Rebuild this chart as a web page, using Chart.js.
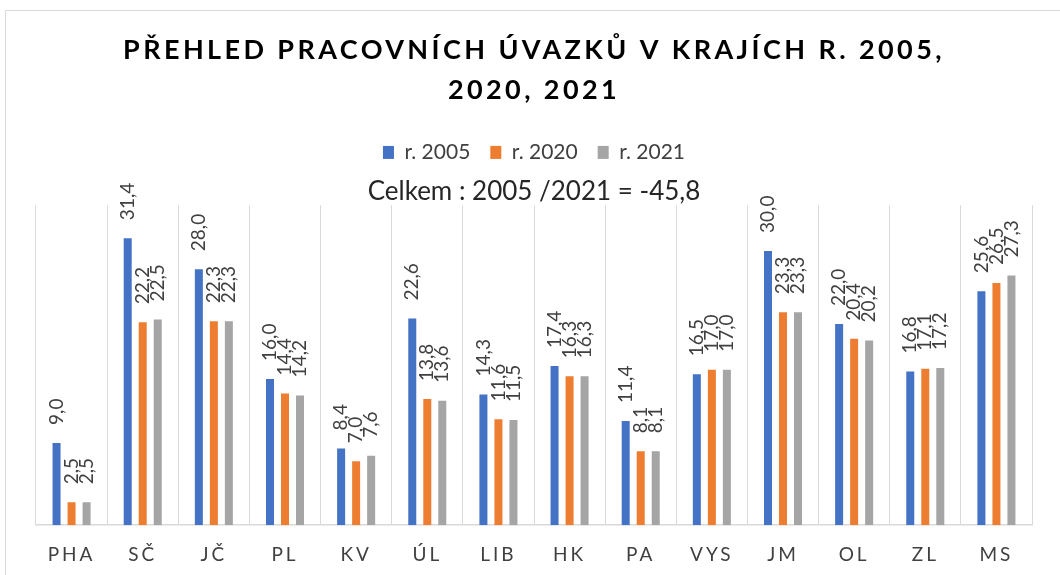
<!DOCTYPE html>
<html lang="cs">
<head>
<meta charset="utf-8">
<title>Přehled pracovních úvazků v krajích</title>
<script src="https://cdn.jsdelivr.net/npm/chart.js@4.4.1/dist/chart.umd.min.js"></script>
<style>
  html, body { margin: 0; padding: 0; background: #fff; }
  #wrap { width: 1060px; height: 575px; }
</style>
</head>
<body>
<div id="wrap"><canvas id="uvazkyChart" width="1060" height="575"></canvas></div>
<script>
// data z grafu
const kraje = ['PHA', 'SČ', 'JČ', 'PL', 'KV', 'ÚL', 'LIB', 'HK', 'PA', 'VYS', 'JM', 'OL', 'ZL', 'MS'];
const rok2005 = [9.0, 31.4, 28.0, 16.0, 8.4, 22.6, 14.3, 17.4, 11.4, 16.5, 30.0, 22.0, 16.8, 25.6];
const rok2020 = [2.5, 22.2, 22.3, 14.4, 7.0, 13.8, 11.6, 16.3, 8.1, 17.0, 23.3, 20.4, 17.1, 26.5];
const rok2021 = [2.5, 22.5, 22.3, 14.2, 7.6, 13.6, 11.5, 16.3, 8.1, 17.0, 23.3, 20.2, 17.2, 27.3];
const nazvySerii = ['r. 2005', 'r. 2020', 'r. 2021'];
const barvy = ['#4472C4', '#ED7D31', '#A5A5A5'];
const titulek = ['PŘEHLED PRACOVNÍCH ÚVAZKŮ V KRAJÍCH R. 2005,', '2020, 2021'];
const podtitulek = 'Celkem : 2005 /2021 = -45,8';

const PISMO = 'Lato, "Open Sans", sans-serif';

function formatCislo(v) {
    return v.toFixed(1).replace('.', ',');
}

// proklad pismen pro titulek a popisky osy x
function prolozit(obj, metoda, mezera) {
    if (!obj || obj['_prolozeno_' + metoda]) return;
    const puvodni = obj[metoda];
    obj[metoda] = function(...args) {
        const ctx = this.ctx;
        ctx.save();
        ctx.letterSpacing = mezera;
        puvodni.apply(this, args);
        ctx.restore();
    };
    obj['_prolozeno_' + metoda] = true;
}

const prokladPlugin = {
    id: 'proklad',
    beforeDraw(chart) {
        prolozit(chart.titleBlock, 'draw', '3.4px');
        prolozit(chart.scales.x, 'drawLabels', '3px');
    }
};

// ramecek grafu
const ramecekPlugin = {
    id: 'ramecek',
    beforeDraw(chart) {
        const ctx = chart.ctx;
        ctx.save();
        ctx.fillStyle = '#fff';
        ctx.fillRect(0, 0, chart.width, chart.height);
        ctx.strokeStyle = '#d9d9d9';
        ctx.lineWidth = 1;
        ctx.beginPath();
        ctx.moveTo(5.5, chart.height);
        ctx.lineTo(5.5, 10.5);
        ctx.lineTo(chart.width, 10.5);
        ctx.stroke();
        ctx.restore();
    }
};

// svisle popisky hodnot nad sloupci
const popiskyPlugin = {
    id: 'popisky',
    afterDatasetsDraw(chart) {
        const ctx = chart.ctx;
        ctx.save();
        ctx.font = '19px ' + PISMO;
        ctx.fillStyle = '#404040';
        ctx.textAlign = 'left';
        ctx.textBaseline = 'middle';
        chart.data.datasets.forEach((ds, i) => {
            chart.getDatasetMeta(i).data.forEach((bar, j) => {
                ctx.save();
                ctx.translate(bar.x, bar.y - 18);
                ctx.rotate(-Math.PI / 2);
                ctx.fillText(formatCislo(ds.data[j]), 0, 0);
                ctx.restore();
            });
        });
        ctx.restore();
    }
};

const canvas = document.getElementById('uvazkyChart');

new Chart(canvas.getContext('2d'), {
    type: 'bar',
    data: {
        labels: kraje,
        datasets: [rok2005, rok2020, rok2021].map((hodnoty, i) => ({
            label: nazvySerii[i],
            data: hodnoty,
            backgroundColor: barvy[i],
            borderWidth: 0,
            categoryPercentage: 0.633,
            barPercentage: 0.533
        }))
    },
    options: {
        responsive: false,
        animation: false,
        layout: {
            padding: { left: 36, right: 28, top: 0, bottom: -9 }
        },
        scales: {
            x: {
                grid: { color: '#d9d9d9', lineWidth: 1, drawTicks: false, offset: true },
                border: { color: '#d9d9d9', width: 1.5 },
                ticks: {
                    color: '#404040',
                    font: { family: PISMO, size: 19 },
                    padding: 18
                }
            },
            y: {
                display: false,
                min: 0,
                max: 35
            }
        },
        plugins: {
            title: {
                display: true,
                text: titulek,
                color: '#000',
                font: { family: PISMO, size: 27, weight: 'bold', lineHeight: 1.48 },
                padding: { top: 30, bottom: 12 }
            },
            legend: {
                labels: {
                    boxWidth: 11,
                    boxHeight: 13,
                    color: '#404040',
                    font: { family: PISMO, size: 21 },
                    padding: 20
                }
            },
            subtitle: {
                display: true,
                text: podtitulek,
                weight: 500,
                color: '#262626',
                font: { family: PISMO, size: 26, lineHeight: 1.05 },
                padding: { top: 5, bottom: 0 }
            },
            tooltip: { enabled: false }
        }
    },
    plugins: [ramecekPlugin, prokladPlugin, popiskyPlugin]
});
</script>
</body>
</html>
